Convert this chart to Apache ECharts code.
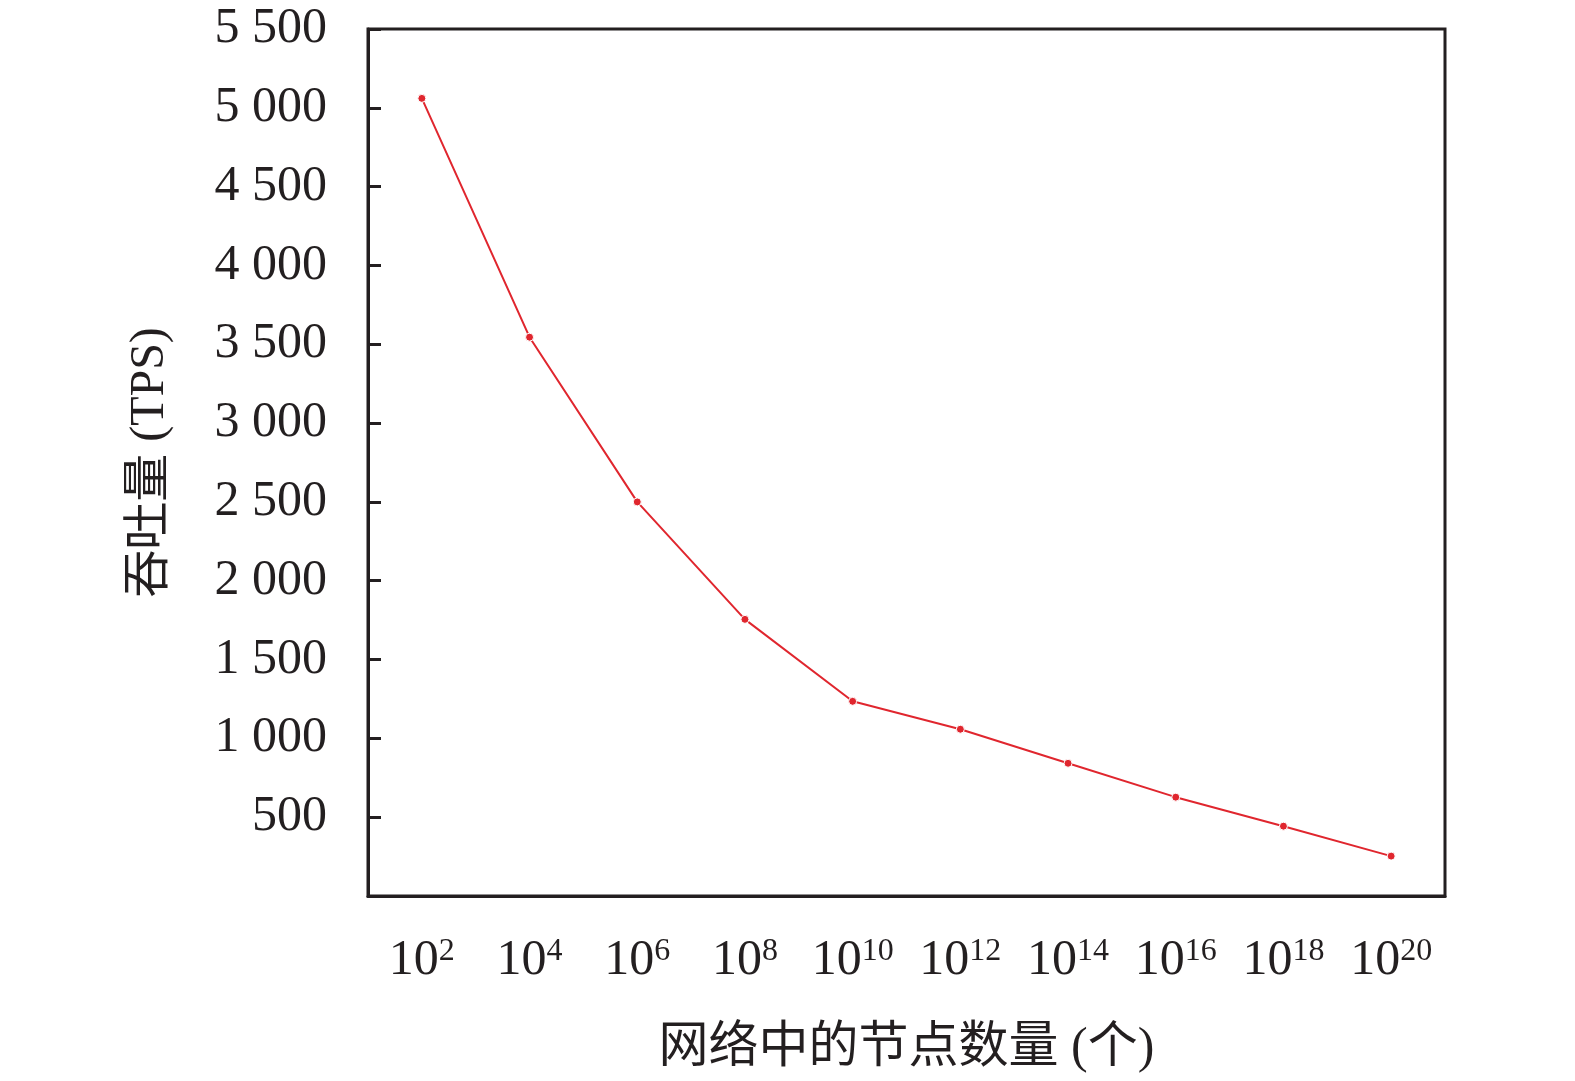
<!DOCTYPE html>
<html>
<head>
<meta charset="utf-8">
<script src="https://cdn.jsdelivr.net/npm/echarts@6/dist/echarts.min.js"></script>
<style>
    html, body { margin: 0; padding: 0; background: #fff; }
    #chart { width: 1575px; height: 1081px; }
</style>
</head>
<body>
<div id="chart"></div>
<script>
    // 横轴：10 的指数
    var exponents = ['2', '4', '6', '8', '10', '12', '14', '16', '18', '20'];
    // 吞吐量 (TPS)
    var throughput = [5060, 3545, 2500, 1755, 1235, 1058, 842, 627, 443, 253];
    var yMin = 0, yMax = 5500, yStep = 500;

    var ink = '#231f20',
        serif = '"Liberation Serif", "Noto Sans CJK SC", serif';

    var chart = echarts.init(document.getElementById('chart'));

    chart.setOption({
        backgroundColor: '#fff',
        animation: false,
        grid: {
            left: 368, right: 130, top: 29, bottom: 185,
            outerBoundsMode: 'none',
            containLabel: false,
            show: true, borderColor: ink, borderWidth: 3
        },
        xAxis: {
            type: 'category',
            data: exponents,
            name: '网络中的节点数量 (个)',
            nameLocation: 'middle',
            nameGap: 128,
            nameTextStyle: { fontFamily: serif, fontSize: 50, color: ink },
            axisLine: { lineStyle: { color: ink, width: 3 } },
            axisTick: { inside: true, alignWithLabel: true, length: 13, lineStyle: { color: ink, width: 3 } },
            axisLabel: {
                margin: 40,
                formatter: function (v) { return '{b|10}{s|' + v + '}'; },
                rich: {
                    b: { fontFamily: serif, fontSize: 50, color: ink, verticalAlign: 'bottom' },
                    s: { fontFamily: serif, fontSize: 32, color: ink, verticalAlign: 'top', padding: [0, 0, 12, 0] }
                }
            }
        },
        yAxis: {
            type: 'value',
            min: yMin, max: yMax, interval: yStep,
            name: '吞吐量 (TPS)',
            nameLocation: 'middle',
            nameGap: 194,
            nameTextStyle: { fontFamily: serif, fontSize: 48, color: ink },
            axisLine: { show: true, lineStyle: { color: ink, width: 3 } },
            axisTick: { show: true, inside: true, length: 13, lineStyle: { color: ink, width: 3 } },
            splitLine: { show: false },
            axisLabel: {
                margin: 41,
                fontFamily: serif, fontSize: 50, color: ink,
                formatter: function (v) {
                    if (v === 0) return '';
                    var k = Math.floor(v / 1000), r = v % 1000;
                    var rs = ('00' + r).slice(-3);
                    return k > 0 ? k + ' ' + rs : String(r);
                }
            }
        },
        series: [{
            type: 'line',
            data: throughput,
            symbol: 'circle',
            symbolSize: 8,
            lineStyle: { color: '#e0262e', width: 2 },
            itemStyle: { color: '#e0262e', borderColor: '#fff', borderWidth: 1 }
        }]
    });
</script>
</body>
</html>
